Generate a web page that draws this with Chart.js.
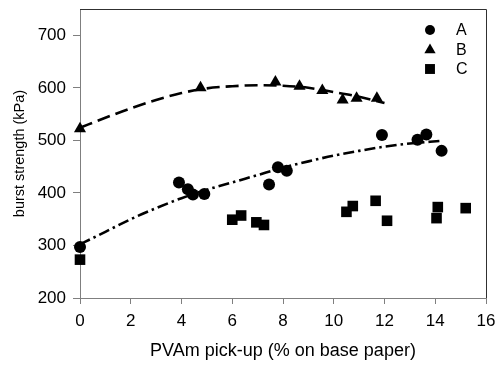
<!DOCTYPE html>
<html>
<head>
<meta charset="utf-8">
<script src="https://cdn.jsdelivr.net/npm/chart.js@4.4.1/dist/chart.umd.min.js"></script>
<style>
  html, body { margin: 0; padding: 0; background: #fff; }
  #wrap { width: 496px; height: 366px; position: relative; }
</style>
</head>
<body>
<div id="wrap"><canvas id="burst"></canvas></div>
<script>
  const pickupA = [0, 3.9, 4.25, 4.45, 4.9, 7.45, 7.8, 8.15, 11.9, 13.3, 13.65, 14.25];
  const burstA = [297, 420, 407, 397, 398, 416, 449, 442, 510, 501, 511, 480];

  const pickupB = [0, 4.75, 7.7, 8.65, 9.55, 10.35, 10.9, 11.7];
  const burstB = [522, 600, 611, 603, 595, 577, 580, 580];

  const pickupC = [0, 6.0, 6.35, 6.95, 7.25, 10.5, 10.75, 11.65, 12.1, 14.05, 14.1, 15.2];
  const burstC = [273, 349, 357, 344, 339, 364, 375, 385, 347, 352, 373, 371];

  // trend curves
  const trendAx = [0, 1, 2, 3, 4, 5, 6, 7, 8, 9, 10, 11, 12, 13, 14.2];
  const trendAy = [302, 326, 350, 371, 390, 406, 420, 434, 448, 460, 471, 480, 488, 494, 499];
  const trendBx = [0, 1, 2, 3, 4, 5, 6, 7, 8, 9, 10, 11, 12];
  const trendBy = [524, 543, 561, 577, 590, 599, 603, 605, 604, 600, 592, 583, 571];

  const xTicks = [0, 2, 4, 6, 8, 10, 12, 14, 16];
  const yTicks = [200, 300, 400, 500, 600, 700];
  const seriesNames = ["A", "B", "C"];

  const FONT = "'Liberation Sans', Arial, sans-serif";
  const AXIS = "#7f7f7f";

  const pts = (xs, ys) => xs.map((x, i) => ({ x: x, y: ys[i] }));

  const markerSet = (label, xs, ys, style, r) => ({
    label: label,
    data: pts(xs, ys),
    showLine: false,
    pointStyle: style,
    pointRadius: r,
    backgroundColor: "#000",
    borderColor: "#000",
    borderWidth: 0,
    clip: false,
  });

  const trendSet = (xs, ys, dash) => ({
    label: "trend",
    data: pts(xs, ys),
    showLine: true,
    pointRadius: 0,
    borderColor: "#000",
    borderWidth: 2.6,
    borderDash: dash,
    cubicInterpolationMode: "monotone",
    fill: false,
    clip: false,
  });

  const legendPlugin = {
    id: "boxLegend",
    afterDraw(chart) {
      const ctx = chart.ctx;
      const area = chart.chartArea;
      ctx.save();
      // frame on top and right
      ctx.strokeStyle = "#303030";
      ctx.lineWidth = 1;
      ctx.beginPath();
      ctx.moveTo(area.left, area.top + 0.5);
      ctx.lineTo(area.right + 0.5, area.top + 0.5);
      ctx.lineTo(area.right + 0.5, area.bottom);
      ctx.stroke();

      const styles = ["circle", "triangle", "rect"];
      const radii = [5, 6.5, 7];
      const rows = [30, 50, 69];
      ctx.font = "16px " + FONT;
      ctx.textBaseline = "middle";
      seriesNames.forEach((name, i) => {
        ctx.fillStyle = "#000";
        Chart.helpers.drawPoint(ctx, { pointStyle: styles[i], radius: radii[i], borderWidth: 0 }, 430, rows[i]);
        ctx.fillStyle = "#000";
        ctx.fillText(name, 456, rows[i] + 1);
      });
      ctx.restore();
    },
  };

  new Chart(document.getElementById("burst"), {
    type: "scatter",
    data: {
      datasets: [
        trendSet(trendBx, trendBy, [13, 6]),
        trendSet(trendAx, trendAy, [11, 4, 2.5, 4]),
        markerSet("C", pickupC, burstC, "rect", 7.5),
        markerSet("B", pickupB, burstB, "triangle", 7),
        markerSet("A", pickupA, burstA, "circle", 6),
      ],
    },
    options: {
      responsive: true,
      maintainAspectRatio: false,
      animation: false,
      layout: { padding: { left: 0, right: 10, top: 9, bottom: 0 } },
      plugins: {
        legend: { display: false },
        tooltip: { enabled: false },
      },
      scales: {
        x: {
          type: "linear",
          min: 0,
          max: 16,
          afterBuildTicks(scale) {
            scale.ticks = xTicks.map((v) => ({ value: v }));
          },
          afterFit(scale) {
            scale.height = 68;
            scale.paddingLeft = 0;
            scale.paddingRight = 0;
          },
          ticks: {
            color: "#000",
            font: { family: FONT, size: 17 },
            padding: 7,
            maxRotation: 0,
          },
          grid: { drawOnChartArea: false, drawTicks: true, tickLength: 6, color: AXIS },
          border: { color: AXIS, width: 1 },
          title: {
            display: true,
            text: "PVAm pick-up (% on base paper)",
            color: "#000",
            font: { family: FONT, size: 18 },
            padding: { top: 0, bottom: 4 },
          },
        },
        y: {
          type: "linear",
          min: 200,
          max: 750,
          afterBuildTicks(scale) {
            scale.ticks = yTicks.map((v) => ({ value: v }));
          },
          afterFit(scale) {
            scale.width = 80;
            scale.paddingTop = 0;
            scale.paddingBottom = 0;
          },
          ticks: {
            color: "#000",
            font: { family: FONT, size: 17 },
            padding: 7,
          },
          grid: { drawOnChartArea: false, drawTicks: true, tickLength: 7, color: AXIS },
          border: { color: AXIS, width: 1 },
          title: {
            display: true,
            text: "burst strength (kPa)",
            color: "#000",
            font: { family: FONT, size: 14.5 },
            padding: { top: 11, bottom: 0 },
          },
        },
      },
    },
    plugins: [legendPlugin],
  });
</script>
</body>
</html>
